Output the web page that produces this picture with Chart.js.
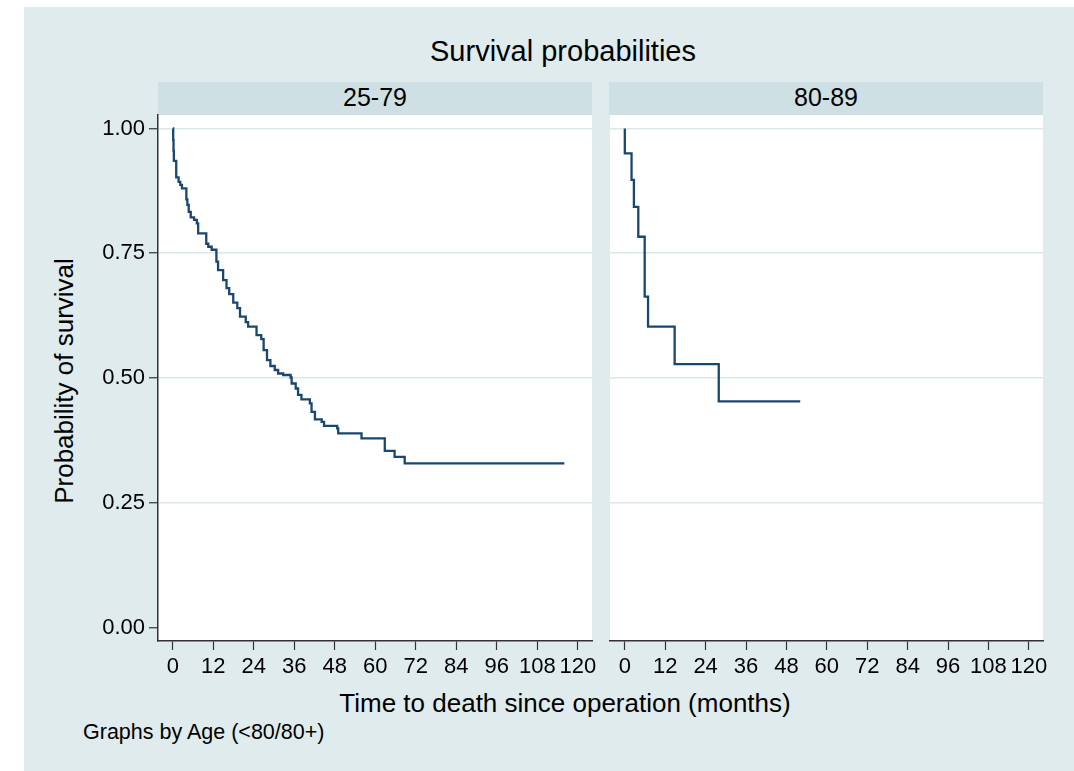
<!DOCTYPE html>
<html>
<head>
<meta charset="utf-8">
<script src="https://cdn.jsdelivr.net/npm/chart.js@4.4.1/dist/chart.umd.min.js"></script>
<style>
    body { margin: 0; background: #fff; font-family: 'Liberation Sans', Arial, sans-serif; }
    #bg { position: absolute; left: 24px; top: 7px; width: 1050px; height: 764px; background: #dfebec; }
    .strip { position: absolute; top: 82px; height: 33px; background: #cfe0e5; }
    .txt { position: absolute; color: #000; white-space: nowrap; }
    canvas { position: absolute; }
</style>
</head>
<body>
<div id="bg"></div>
<div class="strip" style="left:158px;width:434px;"></div>
<div class="strip" style="left:609px;width:434px;"></div>
<div class="txt" style="left:563px;top:37px;font-size:29px;line-height:29px;transform:translateX(-50%);">Survival probabilities</div>
<div class="txt" style="left:375px;top:85px;font-size:25px;line-height:25px;transform:translateX(-50%);">25-79</div>
<div class="txt" style="left:826px;top:85px;font-size:25px;line-height:25px;transform:translateX(-50%);">80-89</div>
<div class="txt" style="left:565px;top:690px;font-size:26px;line-height:26px;transform:translateX(-50%);">Time to death since operation (months)</div>
<div class="txt" style="left:83px;top:722px;font-size:21.5px;line-height:21px;">Graphs by Age (&lt;80/80+)</div>
<div class="txt" style="left:-86.5px;top:368px;width:300px;text-align:center;font-size:26px;line-height:26px;transform:rotate(-90deg);">Probability of survival</div>
<canvas id="left" width="590" height="605" style="left:24px;top:95px;"></canvas>
<canvas id="right" width="484" height="605" style="left:590px;top:95px;"></canvas>
<script>
const leftTime = [0, 0.1, 0.2, 0.3, 1.0, 1.7, 2.2, 2.7, 4.0, 4.3, 4.7, 5.3, 6.3, 7.1, 7.5, 9.9,
    10.5, 11.5, 12.9, 13.4, 14.9, 15.9, 16.7, 17.9, 19.1, 19.9, 21.6, 22.3, 24.8, 26.2, 26.9, 27.9,
    28.9, 30.2, 31.2, 32.7, 34.9, 35.2, 36.4, 37.1, 38.1, 40.6, 41.1, 42.1, 44.1, 44.8, 48.7, 49.0,
    55.9, 62.8, 65.7, 68.7, 116.0];
const leftSurv = [1.000, 0.977, 0.955, 0.935, 0.902, 0.893, 0.887, 0.880, 0.858, 0.847, 0.833, 0.822, 0.817, 0.810, 0.790, 0.769,
    0.763, 0.757, 0.733, 0.716, 0.696, 0.680, 0.668, 0.651, 0.640, 0.623, 0.612, 0.603, 0.586, 0.578, 0.556, 0.536,
    0.524, 0.516, 0.509, 0.506, 0.501, 0.489, 0.479, 0.466, 0.457, 0.449, 0.432, 0.417, 0.412, 0.404, 0.399, 0.389,
    0.379, 0.354, 0.342, 0.329, 0.329];
const rightTime = [0, 0, 2.0, 2.7, 4.0, 5.9, 6.9, 14.8, 27.9, 52.1];
const rightSurv = [1.000, 0.950, 0.897, 0.843, 0.783, 0.663, 0.603, 0.528, 0.453, 0.453];
const xTicks = [0, 12, 24, 36, 48, 60, 72, 84, 96, 108, 120];
const yTicks = [0, 0.25, 0.5, 0.75, 1];

Chart.defaults.font.family = "'Liberation Sans', Arial, sans-serif";
Chart.defaults.color = '#000';

const lineColor = '#1a476f';
const gridColor = '#dbe8ea';
const axisColor = '#333';

const whiteArea = {
    id: 'whiteArea',
    beforeDraw: (chart) => {
        const a = chart.chartArea;
        chart.ctx.save();
        chart.ctx.fillStyle = '#fff';
        chart.ctx.fillRect(a.left, a.top, a.right - a.left, a.bottom - a.top);
        chart.ctx.restore();
    }
};

const makePanel = (id, times, surv, showY, pad) => {
    const points = times.map((t, i) => ({x: t, y: surv[i]}));
    return new Chart(document.getElementById(id), {
        type: 'line',
        data: {
            datasets: [{
                data: points,
                borderColor: lineColor,
                borderWidth: 2.3,
                pointRadius: 0,
                stepped: true,
                fill: false
            }]
        },
        options: {
            responsive: false,
            animation: false,
            devicePixelRatio: 1,
            layout: {padding: pad},
            plugins: {legend: {display: false}, tooltip: {enabled: false}},
            scales: {
                x: {
                    type: 'linear',
                    min: -4.4,
                    max: 124.2,
                    afterBuildTicks: (s) => { s.ticks = xTicks.map(v => ({value: v})); },
                    afterFit: (s) => { s.height = 59; },
                    ticks: {
                        autoSkip: false,
                        maxRotation: 0,
                        padding: 4,
                        font: {size: 22},
                        callback: (v) => String(v)
                    },
                    grid: {drawOnChartArea: false, tickLength: 9, tickColor: axisColor, tickWidth: 1.2},
                    border: {display: true, color: axisColor, width: 1.5}
                },
                y: {
                    type: 'linear',
                    min: -0.027,
                    max: 1.027,
                    afterBuildTicks: (s) => { s.ticks = yTicks.map(v => ({value: v})); },
                    afterFit: (s) => { s.width = showY ? 134 : 0; },
                    ticks: {
                        display: showY,
                        padding: 4,
                        font: {size: 22},
                        callback: (v) => Number(v).toFixed(2)
                    },
                    grid: {
                        drawTicks: showY,
                        tickLength: 9,
                        tickColor: axisColor,
                        tickWidth: 1.2,
                        lineWidth: 1.5,
                        color: (ctx) => (ctx.tick && ctx.tick.value === 0) ? 'rgba(0,0,0,0)' : gridColor
                    },
                    border: {display: showY, color: axisColor, width: 1.5}
                }
            }
        },
        plugins: [whiteArea]
    });
};

makePanel('left', leftTime, leftSurv, true, {top: 20, left: 0, right: 22, bottom: 0});
makePanel('right', rightTime, rightSurv, false, {top: 20, left: 20, right: 31, bottom: 0});
</script>
</body>
</html>
